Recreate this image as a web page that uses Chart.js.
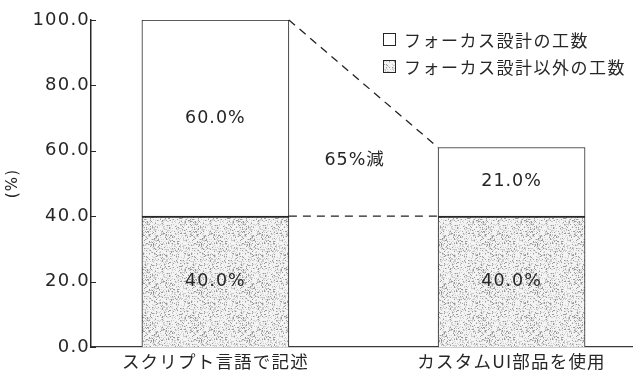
<!DOCTYPE html>
<html>
<head>
<meta charset="utf-8">
<script src="https://cdn.jsdelivr.net/npm/chart.js@4/dist/chart.umd.min.js"></script>
<style>
  html, body { margin: 0; padding: 0; background: #fff; }
  #wrap { width: 633px; height: 375px; }
</style>
</head>
<body>
<div id="wrap"><canvas id="c"></canvas></div>
<script>
// Work-hour share (%) by implementation approach
const categories = ['スクリプト言語で記述', 'カスタムUI部品を使用'];
const seriesNames = ['フォーカス設計の工数', 'フォーカス設計以外の工数'];
const focusDesign = [60.0, 21.0];   // upper segment
const otherDesign = [40.0, 40.0];   // lower segment
const yTicks = [0, 20, 40, 60, 80, 100];
const reductionNote = '65%減';

const FONT = "'DejaVu Sans', 'Noto Sans CJK JP', sans-serif";
const JFONT = "'Noto Sans CJK JP', sans-serif";
const INK = '#262626';
const AXIS_SPACING = '1.2px';

const canvas = document.getElementById('c');
const ctx = canvas.getContext('2d');

// Fine dot texture for the lower segments (fixed hash, repeats as a tile)
function makeStipple() {
  const t = document.createElement('canvas');
  t.width = t.height = 48;
  const g = t.getContext('2d');
  g.fillStyle = '#f3f3f3';
  g.fillRect(0, 0, 48, 48);
  for (let y = 0; y < 48; y++) {
    for (let x = 0; x < 48; x++) {
      const h = ((x * 73856093) ^ (y * 19349663) ^ ((x * y) * 83492791)) >>> 0;
      const k = h % 100;
      if (k < 11) { g.fillStyle = '#9a9a9a'; g.fillRect(x, y, 1, 1); }
      else if (k < 32) { g.fillStyle = '#cdcdcd'; g.fillRect(x, y, 1, 1); }
    }
  }
  return ctx.createPattern(t, 'repeat');
}
const stipple = makeStipple();

const toPoints = arr => arr.map((v, i) => ({ x: i, y: v }));

// canvas resizes reset the context state, so spacing is reapplied here
const spacing = {
  id: 'spacing',
  beforeUpdate(chart) { chart.ctx.letterSpacing = AXIS_SPACING; },
  beforeDraw(chart) { chart.ctx.letterSpacing = AXIS_SPACING; }
};

const annotate = {
  id: 'annotate',
  afterDatasetsDraw(chart) {
    const c = chart.ctx;
    const xs = chart.scales.x, ys = chart.scales.y;
    const area = chart.chartArea;
    c.save();

    // inward tick marks on the value axis
    c.strokeStyle = INK;
    c.lineWidth = 1;
    yTicks.forEach(v => {
      const py = Math.round(ys.getPixelForValue(v)) + 0.5;
      c.beginPath();
      c.moveTo(area.left, py);
      c.lineTo(area.left + 5, py);
      c.stroke();
    });

    const lower = chart.getDatasetMeta(0).data;
    const upper = chart.getDatasetMeta(1).data;

    // dashed connectors between the two bars
    c.setLineDash([8, 6]);
    c.lineWidth = 1.3;
    c.strokeStyle = '#222';
    [[upper[0], upper[1]], [lower[0], lower[1]]].forEach(([a, b]) => {
      c.beginPath();
      c.moveTo(a.x + a.width / 2, a.y);
      c.lineTo(b.x - b.width / 2, b.y);
      c.stroke();
    });
    c.setLineDash([]);

    // segment value labels
    c.fillStyle = INK;
    c.font = '17.5px ' + FONT;
    c.letterSpacing = '1px';
    c.textAlign = 'center';
    c.textBaseline = 'middle';
    [[lower, otherDesign], [upper, focusDesign]].forEach(([els, vals]) => {
      els.forEach((el, i) => {
        c.fillText(vals[i].toFixed(1) + '%', el.x, (el.y + el.base) / 2);
      });
    });

    // reduction note between the bars
    c.fillText(reductionNote, xs.getPixelForValue(0.47), ys.getPixelForValue(57));
    c.restore();
  },
  afterDraw(chart) {
    // legend inside the plot, top right
    const c = chart.ctx;
    c.save();
    const fills = ['#ffffff', stipple];
    const bx = 383, by = 33, gap = 27, s = 13;
    c.font = '17px ' + JFONT;
    c.letterSpacing = '1.5px';
    c.textAlign = 'left';
    c.textBaseline = 'middle';
    seriesNames.forEach((name, i) => {
      const y = by + i * gap;
      c.fillStyle = fills[i];
      c.fillRect(bx, y, s, s);
      c.strokeStyle = INK;
      c.lineWidth = 1;
      c.strokeRect(bx + 0.5, y + 0.5, s - 1, s - 1);
      c.fillStyle = INK;
      c.fillText(name, bx + s + 8, y + s / 2 + 1);
    });
    c.restore();
  }
};

new Chart(ctx, {
  type: 'bar',
  data: {
    datasets: [
      {
        label: seriesNames[1],
        data: toPoints(otherDesign),
        backgroundColor: stipple,
        borderColor: INK,
        borderWidth: { top: 2, left: 1, right: 1, bottom: 0 },
        borderSkipped: false
      },
      {
        label: seriesNames[0],
        data: toPoints(focusDesign),
        backgroundColor: '#ffffff',
        borderColor: INK,
        borderWidth: { top: 1, left: 1, right: 1, bottom: 0 },
        borderSkipped: false
      }
    ]
  },
  options: {
    responsive: true,
    maintainAspectRatio: false,
    animation: false,
    layout: { padding: { top: 20, right: 0, bottom: 0, left: 0 } },
    datasets: { bar: { barThickness: 147 } },
    plugins: { legend: { display: false }, tooltip: { enabled: false } },
    scales: {
      x: {
        type: 'linear',
        stacked: true,
        offset: false,
        min: -0.42,
        max: 1.41,
        afterBuildTicks: scale => { scale.ticks = categories.map((_, i) => ({ value: i })); },
        afterFit: scale => { scale.height = 28; },
        grid: { display: false, drawTicks: false },
        border: { display: true, color: '#3a3a3a', width: 1.2 },
        ticks: {
          padding: 4,
          maxRotation: 0,
          autoSkip: false,
          color: INK,
          font: { family: JFONT, size: 17.5 },
          callback: v => categories[v]
        }
      },
      y: {
        stacked: true,
        min: 0,
        max: 100,
        afterBuildTicks: scale => { scale.ticks = yTicks.map(v => ({ value: v })); },
        afterFit: scale => { scale.width = 91; },
        grid: { display: false, drawTicks: false },
        border: { display: true, color: INK, width: 1.5 },
        title: {
          display: true,
          text: '(%)',
          color: INK,
          font: { family: FONT, size: 15 },
          padding: { top: 4, bottom: 0 }
        },
        ticks: {
          padding: 1,
          color: INK,
          font: { family: FONT, size: 18 },
          callback: v => Number(v).toFixed(1)
        }
      }
    }
  },
  plugins: [spacing, annotate]
});
</script>
</body>
</html>
